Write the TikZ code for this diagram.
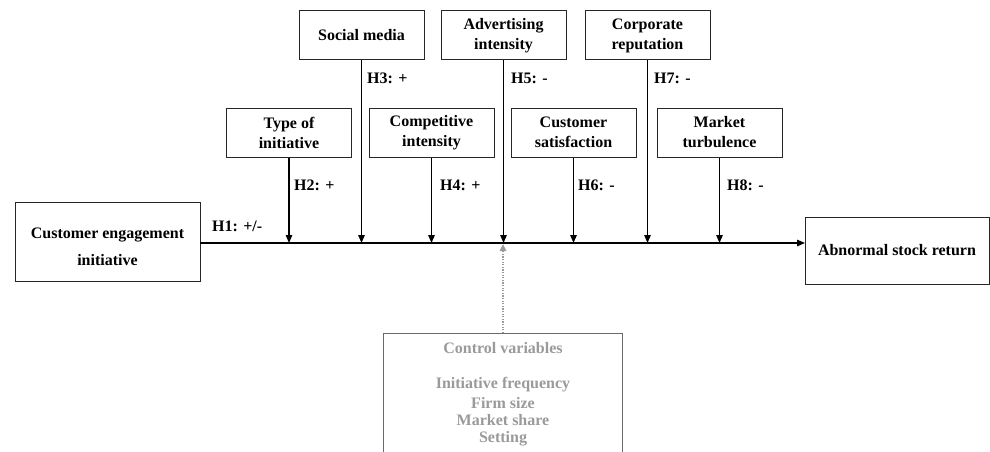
\documentclass[tikz,border=0pt]{standalone}
\usepackage{fontspec}
\setmainfont{Liberation Serif}
\usetikzlibrary{arrows.meta}
\definecolor{ctrlgray}{HTML}{9A9A9A}
\definecolor{ctrlline}{HTML}{6A6A6A}
\tikzset{
  box/.style={draw=black!85, line width=1pt, inner sep=0pt, align=center,
    font=\fontsize{16}{20}\selectfont\bfseries},
  modbox/.style={box, minimum width=125pt, minimum height=49pt},
  hlabel/.style={anchor=west, inner sep=0pt, font=\fontsize{16}{20}\selectfont\bfseries},
  link/.style={line width=1.3pt, -{Triangle[length=8pt,width=6.5pt]}},
  ctrltext/.style={text=ctrlgray, inner sep=0pt, font=\fontsize{16}{18}\selectfont\bfseries},
}
\begin{document}
\begin{tikzpicture}[x=1pt,y=-1pt]
\useasboundingbox (0,0) rectangle (990,452);
% main boxes
\node[box, minimum width=185pt, minimum height=79pt] (cei) at (107.5,241.5) {};
\node[align=center, inner sep=0pt, font=\fontsize{16}{20}\selectfont\bfseries] (ceitext) at (107.5,246.5) {Customer engagement\\[7pt]initiative};
\node[box, minimum width=184pt, minimum height=67pt] (asr) at (897,250.5) {Abnormal stock return};
% moderator boxes
\node[modbox] (type) at (289,132.5) {Type of\\initiative};
\node[modbox] (soc) at (361.5,35.5) {Social media};
\node[modbox] (comp) at (431.5,132.5) {Competitive\\intensity};
\node[modbox] (adv) at (503.5,35.5) {Advertising\\intensity};
\node[modbox] (sat) at (573.5,132.5) {Customer\\satisfaction};
\node[modbox] (rep) at (647.5,35.5) {Corporate\\reputation};
\node[modbox] (turb) at (719.5,132.5) {Market\\turbulence};
% main line
\coordinate (lineL) at (200,243);
\coordinate (lineR) at (805,243);
\draw[link] (lineL) -- (lineR);
% moderator arrows
\foreach \n in {type,soc,comp,adv,sat,rep,turb}{
  \draw[link] (\n.south) -- (\n.south |- lineL);
}
% labels
\node[hlabel] (h1) at (212,226) {H1: +/-};
\node[hlabel] (h2) at (294,185) {H2: +};
\node[hlabel] (h3) at (367,78) {H3: +};
\node[hlabel] (h4) at (440,185) {H4: +};
\node[hlabel] (h5) at (511,78) {H5: -};
\node[hlabel] (h6) at (578,185) {H6: -};
\node[hlabel] (h7) at (654,78) {H7: -};
\node[hlabel] (h8) at (727,185) {H8: -};
% control variables
\node[inner sep=0pt, minimum width=238pt, minimum height=130pt, anchor=north] (ctrl) at (503,333) {};
\node[ctrltext] (ct1) at (503,348) {Control variables};
\node[ctrltext] (ct2) at (503,385) {Initiative frequency};
\node[ctrltext] (ct3) at (503,403) {Firm size};
\node[ctrltext] (ct4) at (503,420.5) {Market share};
\node[ctrltext] (ct5) at (503,438.5) {Setting};
\draw[ctrlline, line width=1pt] (ctrl.south west) -- (ctrl.north west) -- (ctrl.north east) -- (ctrl.south east);
\coordinate (ctrlhit) at (503,244);
\draw[ctrlgray, line width=1.3pt, dash pattern=on 1.3pt off 1.3pt, -{Triangle[length=7pt,width=6.5pt]}] (ctrl.north) -- (ctrlhit);
\end{tikzpicture}
\end{document}
